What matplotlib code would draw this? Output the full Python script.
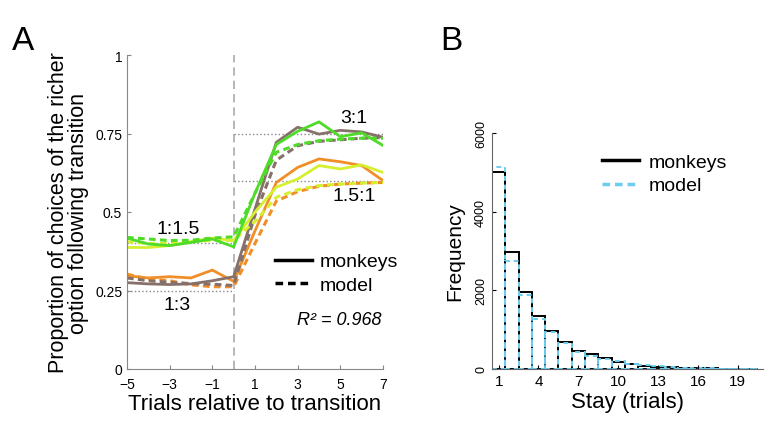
import numpy as np
import matplotlib
matplotlib.use('Agg')
import matplotlib.pyplot as plt

plt.rcParams['font.family'] = ['Liberation Sans', 'DejaVu Sans']

# panel A data
trials = [-5, -4, -3, -2, -1, 0, 1, 2, 3, 4, 5, 6, 7]
green_monkeys = [0.417, 0.398, 0.393, 0.403, 0.414, 0.389, 0.56, 0.715, 0.757, 0.787, 0.74, 0.752, 0.712]
green_model = [0.419, 0.414, 0.409, 0.41, 0.417, 0.421, 0.56, 0.69, 0.715, 0.727, 0.732, 0.735, 0.735]
yellow_monkeys = [0.387, 0.387, 0.393, 0.406, 0.417, 0.409, 0.50, 0.579, 0.605, 0.648, 0.637, 0.65, 0.626]
yellow_model = [0.405, 0.40, 0.40, 0.405, 0.41, 0.41, 0.47, 0.547, 0.571, 0.584, 0.589, 0.592, 0.594]
brown_monkeys = [0.275, 0.271, 0.269, 0.271, 0.281, 0.294, 0.51, 0.722, 0.77, 0.748, 0.76, 0.755, 0.738]
brown_model = [0.29, 0.281, 0.276, 0.272, 0.27, 0.266, 0.49, 0.665, 0.711, 0.725, 0.73, 0.735, 0.737]
orange_monkeys = [0.297, 0.29, 0.294, 0.29, 0.315, 0.279, 0.44, 0.594, 0.642, 0.669, 0.66, 0.648, 0.60]
orange_model = [0.302, 0.286, 0.281, 0.268, 0.262, 0.262, 0.40, 0.535, 0.565, 0.582, 0.589, 0.592, 0.594]

# panel B data
stay = np.arange(1, 21)
monkeys_freq = [5000, 2970, 1950, 1340, 975, 698, 468, 385, 280, 190, 130, 88, 60, 43, 30, 20, 14, 10, 7, 5]
model_freq = [5130, 2740, 1870, 1276, 936, 660, 425, 325, 255, 212, 130, 100, 70, 42, 30, 20, 14, 10, 7, 5]

green = '#4edc28'
yellow = '#d6ef2e'
orange = '#f08e28'
brown = '#86716a'
cyan = '#6ccdef'
dash = (0, (2.2, 1.4))

fig = plt.figure(figsize=(7.78, 4.35), dpi=100)

# ---- A ----
ax = fig.add_axes([127/778, 65/435, 256/778, 314/435])
ax.axvline(0, color='#aaaaaa', lw=1.2, ls=(0, (5, 3)), zorder=1)
ax.plot([-5, 0], [0.25, 0.25], ls=':', color='#888888', lw=1)
ax.plot([-5, 0], [0.4, 0.4], ls=':', color='#888888', lw=1)
ax.plot([0, 7], [0.75, 0.75], ls=':', color='#888888', lw=1)
ax.plot([0, 7], [0.6, 0.6], ls=':', color='#888888', lw=1)

for mon, mod, c in [(orange_monkeys, orange_model, orange),
                    (brown_monkeys, brown_model, brown),
                    (yellow_monkeys, yellow_model, yellow),
                    (green_monkeys, green_model, green)]:
    ax.plot(trials, mod, color=c, lw=2.2, ls=dash)
    ax.plot(trials, mon, color=c, lw=2.0)

ax.set_xlim(-5, 7)
ax.set_ylim(0, 1)
ax.set_xticks([-5, -3, -1, 1, 3, 5, 7])
ax.set_yticks([0, 0.25, 0.5, 0.75, 1])
ax.set_yticklabels(['0', '0.25', '0.5', '0.75', '1'])
ax.tick_params(direction='in', labelsize=10, length=3, color='#888888')
ax.tick_params(axis='x', pad=6)
for s in ['top', 'right']:
    ax.spines[s].set_visible(False)
for s in ['left', 'bottom']:
    ax.spines[s].set_color('#888888')
ax.set_xlabel('Trials relative to transition', fontsize=16, labelpad=1)
ax.set_ylabel('Proportion of choices of the richer\noption following transition', fontsize=15.5,
              linespacing=0.95, labelpad=4)

ax.text(-2.6, 0.446, '1:1.5', fontsize=14, ha='center', va='center')
ax.text(-2.65, 0.207, '1:3', fontsize=14, ha='center', va='center')
ax.text(5.64, 0.80, '3:1', fontsize=14, ha='center', va='center')
ax.text(5.64, 0.551, '1.5:1', fontsize=14, ha='center', va='center')
ax.text(6.95, 0.157, 'R² = 0.968', fontsize=13, style='italic', ha='right', va='center')

hA = [plt.Line2D([], [], color='k', lw=2.5), plt.Line2D([], [], color='k', lw=2.5, ls=dash)]
ax.legend(hA, ['monkeys', 'model'], loc='center left', bbox_to_anchor=(0.54, 0.305),
          frameon=False, fontsize=14, handlelength=1.9, handletextpad=0.4,
          labelspacing=0.3, borderpad=0)

fig.text(12/778, 1 - 42/435, 'A', fontsize=24, va='center')
fig.text(440/778, 1 - 42/435, 'B', fontsize=24, va='center')

# ---- B ----
bx = fig.add_axes([492/778, 65/435, 271/778, 236/435])
bx.bar(stay, monkeys_freq, width=1, fill=False, edgecolor='k', lw=1.4)
bx.bar(stay, model_freq, width=1, fill=False, edgecolor=cyan, lw=1.4, ls=(0, (2.5, 2)))
bx.set_xlim(0.5, 20.9)
bx.set_ylim(0, 6000)
bx.set_xticks(range(1, 20, 3))
bx.set_yticks([0, 2000, 4000, 6000])
bx.tick_params(axis='x', direction='in', labelsize=11, length=3)
bx.tick_params(axis='y', direction='in', labelsize=9, length=3, labelrotation=90)
for lab in bx.get_yticklabels():
    lab.set_va('center')
for s in ['top', 'right']:
    bx.spines[s].set_visible(False)
for s in ['left', 'bottom']:
    bx.spines[s].set_color('#666666')
bx.set_xlabel('Stay (trials)', fontsize=16, labelpad=2)
bx.set_ylabel('Frequency', fontsize=15, labelpad=8)

hB = [plt.Line2D([], [], color='k', lw=2.5), plt.Line2D([], [], color=cyan, lw=2.5, ls=dash)]
bx.legend(hB, ['monkeys', 'model'], loc='upper left', bbox_to_anchor=(0.37, 0.955),
          frameon=False, fontsize=14, handlelength=1.9, handletextpad=0.5,
          labelspacing=0.3, borderpad=0)

fig.savefig('out.png', dpi=100)
